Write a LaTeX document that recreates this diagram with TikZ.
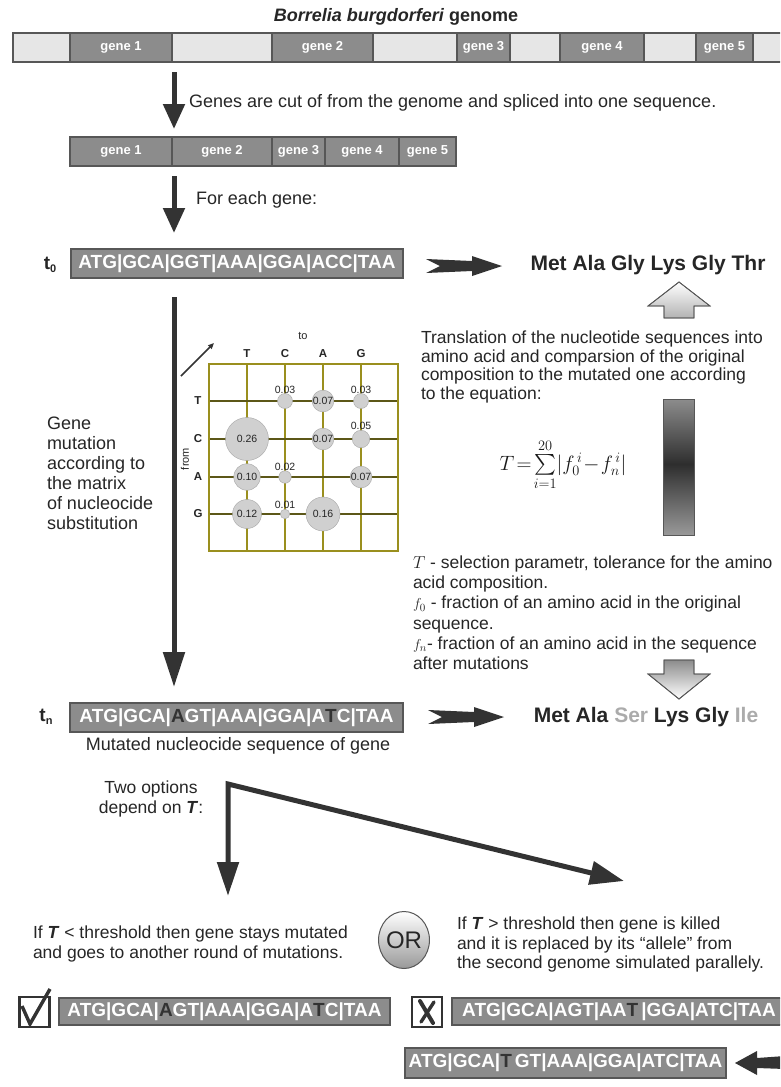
\documentclass[tikz,border=0pt]{standalone}
\usepackage{amsmath}
\usepackage{fontspec}
\setmainfont{Liberation Sans}
\usetikzlibrary{arrows.meta,shapes.geometric}
\definecolor{gdark}{HTML}{8C8C8C}
\definecolor{glight}{HTML}{E6E6E6}
\definecolor{edgec}{HTML}{575757}
\definecolor{arr}{HTML}{333333}
\definecolor{seqdk}{HTML}{333333}
\definecolor{ltc}{HTML}{ABABAB}
\definecolor{gridv}{HTML}{9A8F1E}
\definecolor{gridh}{HTML}{5C5718}
\definecolor{bubc}{HTML}{D0D0D0}
\newcommand{\fs}[1]{\fontsize{#1}{#1}\selectfont}
\newcommand{\fsb}[2]{\fontsize{#1}{#2}\selectfont}
\newcommand{\dk}[1]{\textcolor{seqdk}{#1}}
\newcommand{\lgr}[1]{\textcolor{ltc}{#1}}
\tikzset{
  every node/.style={inner sep=0pt, outer sep=0pt},
  seg/.style={draw=edgec, line width=1.1pt, minimum height=29pt, font=\fs{13}\bfseries, text=white},
  lseg/.style={seg, fill=glight},
  dseg/.style={seg, fill=gdark},
  seqbox/.style={draw=edgec, line width=1.2pt, fill=gdark, text=white, font=\fs{19}\bfseries},
  body/.style={anchor=base west, text=black!85},
  vthick/.style={draw=arr, line width=5pt, -{Triangle[length=25pt,width=21pt]}},
  fatarrow/.style={fill=arr},
  blockarrow/.style={draw=edgec, line width=0.8pt},
  bubble/.style={circle, fill=bubc, draw=bubc!80!black, line width=0.4pt, font=\fs{10.5}, text=black!85},
  mlab/.style={font=\fs{10.5}, text=black!85},
  mhead/.style={font=\fs{11.5}\bfseries, text=black!85},
}
\begin{document}
\begin{tikzpicture}[x=1pt,y=-1pt]
\clip (0,0) rectangle (780,1087);
\fill[white] (0,0) rectangle (780,1087);

% title
\node[font=\fs{18}\bfseries, text=black!85] (title) at (396,17) {\itshape Borrelia burgdorferi\upshape\ genome};

% genome bar
\node[lseg, minimum width=57pt] (L0) at (41.5,47.5) {};
\node[dseg, minimum width=102pt] (G1) at (121,47.5) {gene 1};
\node[lseg, minimum width=100pt] (L1) at (222,47.5) {};
\node[dseg, minimum width=101pt] (G2) at (322.5,47.5) {gene 2};
\node[lseg, minimum width=84pt] (L2) at (415,47.5) {};
\node[dseg, minimum width=53pt] (G3) at (483.5,47.5) {gene 3};
\node[lseg, minimum width=50pt] (L3) at (535,47.5) {};
\node[dseg, minimum width=84pt] (G4) at (602,47.5) {gene 4};
\node[lseg, minimum width=52pt] (L4) at (670,47.5) {};
\node[dseg, minimum width=57pt] (G5) at (724.5,47.5) {gene 5};
\node[lseg, minimum width=40pt] (L5) at (773,47.5) {};

% arrow 1
\coordinate (a1s) at (174,72);
\coordinate (a1e) at (174,129);
\draw[vthick] (a1s) -- (a1e);
\node[body, font=\fs{18}] (t1) at (189,107) {Genes are cut of from the genome and spliced into one sequence.};

% spliced bar
\node[dseg, minimum width=102pt] (S1) at (121,151.5) {gene 1};
\node[dseg, minimum width=100pt] (S2) at (222,151.5) {gene 2};
\node[dseg, minimum width=53pt] (S3) at (298.5,151.5) {gene 3};
\node[dseg, minimum width=74pt] (S4) at (362,151.5) {gene 4};
\node[dseg, minimum width=57pt] (S5) at (427.5,151.5) {gene 5};

% arrow 2
\coordinate (a2s) at (174,176);
\coordinate (a2e) at (174,233);
\draw[vthick] (a2s) -- (a2e);
\node[body, font=\fs{18}] (t2) at (196,204) {For each gene:};

% t0 row
\node[font=\fs{19}\bfseries, text=black!85] (t0lab) at (50,265) {t\raisebox{-3pt}{\fs{11}0}};
\node[seqbox, minimum width=332pt, minimum height=29pt] (seq0) at (237,263.5) {ATG|GCA|GGT|AAA|GGA|ACC|TAA};
\fill[fatarrow] (426,259) -- (472,261) -- (472,256) -- (502,266) -- (472,276) -- (472,271) -- (426,273) -- (440,266) -- cycle;
\node[font=\fs{21}\bfseries, text=black!85] (aa0) at (648,265) {Met Ala Gly Lys Gly Thr};

% up arrow
\shade[blockarrow, top color=white, bottom color=black!30] (679,282) -- (710,306) -- (694,306) -- (694,318) -- (664,318) -- (664,306) -- (648,306) -- cycle;
\draw[blockarrow] (679,282) -- (710,306) -- (694,306) -- (694,318) -- (664,318) -- (664,306) -- (648,306) -- cycle;

% translation text
\node[body, font=\fsb{17.5}{18.7}] (trans) at (421,343.5) {\begin{tabular}[t]{@{}l@{}}Translation of the nucleotide sequences into\\ amino acid and comparsion of the original\\ composition to the mutated one according\\ to the equation:\end{tabular}};

% gradient bar
\shade[top color=black!45, bottom color=black!82] (663,399) rectangle (694,464);
\shade[top color=black!82, bottom color=black!40] (663,464) rectangle (694,535);
\draw[edgec, line width=0.8pt] (663,399) rectangle (694,535);

% equation
\node[font=\fs{22}, text=black!90] (eq) at (563,465) {$T\!=\!\sum\limits_{i=1}^{20}\lvert f_0^{\,i}\!-\!f_n^{\,i}\rvert$};

% T explanation
\node[body, font=\fsb{17.5}{20.2}] (expl) at (413,568.5) {\begin{tabular}[t]{@{}l@{}}$T$ - selection parametr, tolerance for the amino\\ acid composition.\\ {\fs{15}$f_0$} - fraction of an amino acid in the original\\ sequence.\\ {\fs{15}$f_n$}- fraction of an amino acid in the sequence\\ after mutations\end{tabular}};

% down arrow
\shade[blockarrow, top color=black!45, bottom color=white] (664,660) -- (694,660) -- (694,674) -- (710,674) -- (679,699) -- (648,674) -- (664,674) -- cycle;
\draw[blockarrow] (664,660) -- (694,660) -- (694,674) -- (710,674) -- (679,699) -- (648,674) -- (664,674) -- cycle;

% long arrow and gene mutation text
\coordinate (a3s) at (174,297);
\coordinate (a3e) at (174,687);
\draw[draw=arr, line width=5pt, -{Triangle[length=35pt,width=21pt]}] (a3s) -- (a3e);
\node[body, font=\fsb{18}{20}] (mut) at (47,429.5) {\begin{tabular}[t]{@{}l@{}}Gene\\ mutation\\ according to\\ the matrix\\ of nucleocide\\ substitution\end{tabular}};

% matrix
\foreach \x in {247,285,323,361} \draw[gridv, line width=1.3pt] (\x,364) -- (\x,551);
\foreach \y in {401,439,477,514} \draw[gridh, line width=1.1pt] (209,\y) -- (398,\y);
\draw[gridv, line width=1.5pt] (209,364) rectangle (398,551);
\node[mlab, font=\fs{11}] (to) at (303,336) {to};
\node[mhead] (cT) at (247,354) {T};
\node[mhead] (cC) at (285,354) {C};
\node[mhead] (cA) at (323,354) {A};
\node[mhead] (cG) at (361,354) {G};
\node[mhead] (rT) at (198,401) {T};
\node[mhead] (rC) at (198,439) {C};
\node[mhead] (rA) at (198,477) {A};
\node[mhead] (rG) at (198,514) {G};
\node[mlab, font=\fs{11}, rotate=90] (from) at (185,459) {from};
\coordinate (dgs) at (181,376);
\coordinate (dge) at (214,343);
\draw[arr, line width=1.5pt, -{Triangle[length=6pt,width=5pt]}] (dgs) -- (dge);

\node[bubble, minimum size=15pt] (bTC) at (285,401) {};
\node[bubble, minimum size=20pt] (bTA) at (323,401) {0.07};
\node[bubble, minimum size=15pt] (bTG) at (361,401) {};
\node[bubble, minimum size=43pt] (bCT) at (247,439) {0.26};
\node[bubble, minimum size=20pt] (bCA) at (323,439) {0.07};
\node[bubble, minimum size=17.5pt] (bCG) at (361,439) {};
\node[bubble, minimum size=26.5pt] (bAT) at (247,477) {0.10};
\node[bubble, minimum size=12.5pt] (bAC) at (285,477) {};
\node[bubble, minimum size=20pt] (bAG) at (361,477) {0.07};
\node[bubble, minimum size=29pt] (bGT) at (247,514) {0.12};
\node[bubble, minimum size=9.5pt] (bGC) at (285,514) {};
\node[bubble, minimum size=34pt] (bGA) at (323,514) {0.16};
\node[mlab] (lTC) at (285,390) {0.03};
\node[mlab] (lTG) at (361,390) {0.03};
\node[mlab] (lCG) at (361,426) {0.05};
\node[mlab] (lAC) at (285,467) {0.02};
\node[mlab] (lGC) at (285,505) {0.01};

% tn row
\node[font=\fs{19}\bfseries, text=black!85] (tnlab) at (46,717) {t\raisebox{-3pt}{\fs{11}n}};
\node[seqbox, minimum width=333pt, minimum height=29pt] (seqn) at (236.5,717.5) {ATG|GCA|\dk{A}GT|AAA|GGA|A\dk{T}C|TAA};
\fill[fatarrow] (428,710) -- (474,712) -- (474,707) -- (504,717) -- (474,727) -- (474,722) -- (428,724) -- (442,717) -- cycle;
\node[font=\fs{21}\bfseries, text=black!85] (aan) at (646,717) {Met Ala \lgr{Ser} Lys Gly \lgr{Ile}};
\node[font=\fs{18}, text=black!85] (mutseq) at (238,746) {Mutated nucleocide sequence of gene};

% two options
\node[anchor=base, font=\fsb{17.5}{19.5}, text=black!85] (two) at (151,793.5) {\begin{tabular}[t]{@{}c@{}}Two options\\ depend on \textbf{\textit{T}}:\end{tabular}};
\coordinate (bc) at (228,784);
\coordinate (bl) at (228,896);
\coordinate (br) at (624,881);
\draw[draw=arr, line width=5pt, line join=miter, {Triangle[length=34pt,width=21pt]}-{Triangle[length=34pt,width=23pt]}] (bl) -- (bc) -- (br);

% options text
\node[body, font=\fsb{17.5}{19.5}] (optL) at (33,938.5) {\begin{tabular}[t]{@{}l@{}}If \textbf{\textit{T}} < threshold then gene stays mutated\\ and goes to another round of mutations.\end{tabular}};
\node[ellipse, minimum width=50pt, minimum height=57pt, draw=edgec, line width=1pt, top color=white, bottom color=black!40, font=\fs{24}, text=black!85] (or) at (404,940) {OR};
\node[body, font=\fsb{17.5}{19.5}] (optR) at (457,929.5) {\begin{tabular}[t]{@{}l@{}}If \textbf{\textit{T}} > threshold then gene is killed\\ and it is replaced by its \char"201Callele\char"201D{} from\\ the second genome simulated parallely.\end{tabular}};

% bottom row
\node[draw=arr, line width=2.4pt, fill=white, minimum size=30pt] (chk) at (34.5,1012) {};
\draw[arr, line width=3.4pt, line join=miter] (22,1006) -- (30,1024) -- (50,989);
\node[seqbox, minimum width=331pt, minimum height=27pt] (seqA) at (224.5,1011.5) {ATG|GCA|\dk{A}GT|AAA|GGA|A\dk{T}C|TAA};
\node[draw=arr, line width=2.4pt, fill=white, minimum size=30pt] (xbox) at (427,1012) {};
\draw[arr, line width=4pt, line cap=round] (420,1001) -- (433,1023);
\draw[arr, line width=3.4pt, line cap=round] (434,1002) -- (421,1022);
\node[seqbox, minimum width=334pt, minimum height=27pt] (seqB) at (619,1011.5) {ATG|GCA|AGT|AA\dk{T}\hspace{3pt}|GGA|ATC|TAA};
\node[seqbox, minimum width=321pt, minimum height=30pt] (seqC) at (565.5,1063) {ATG|GCA|\dk{T}\hspace{3pt}GT|AAA|GGA|ATC|TAA};
\fill[fatarrow] (735,1063) -- (757,1051) -- (757,1058) -- (785,1056) -- (785,1069) -- (757,1068) -- (757,1075) -- cycle;
\end{tikzpicture}
\end{document}
